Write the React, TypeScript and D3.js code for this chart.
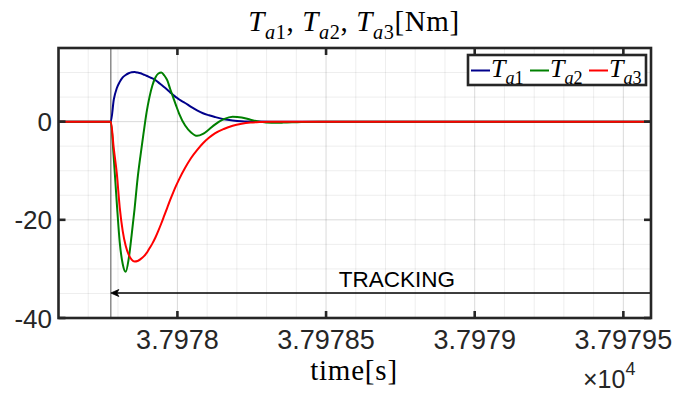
import React from "react";
import * as d3 from "d3";

// Time window and switching instant (seconds)
const T_START = 37977.6;
const T_END = 37979.593;
const T_SWITCH = 37977.776;

// Sample instants after the switch (seconds)
const tOffsets = [
  0, 0.01, 0.02, 0.03, 0.04, 0.05, 0.06, 0.07, 0.08, 0.09, 0.1, 0.11, 0.12, 0.13, 0.14, 0.15, 0.16,
  0.17, 0.18, 0.19, 0.2, 0.21, 0.22, 0.23, 0.25, 0.27, 0.29, 0.31, 0.33, 0.35, 0.38, 0.41, 0.44,
  0.47, 0.5, 0.54, 0.58, 0.64, 0.7, 0.8,
];

// Actuator torques [Nm]
const ta1 = [
  0, 4.5, 6.8, 8.1, 9.0, 9.5, 9.85, 10.05, 10.1, 10.0, 9.85, 9.6, 9.35, 9.05, 8.8, 8.45, 8.0, 7.5,
  7.0, 6.5, 5.95, 5.4, 4.95, 4.5, 3.8, 3.0, 2.3, 1.7, 1.3, 0.95, 0.5, 0.25, 0.1, 0.04, 0.01, 0, 0, 0,
  0, 0,
];
const ta2 = [
  0, -7.5, -16.5, -24.6, -29.0, -30.6, -28.0, -23.1, -17.7, -11.6, -6.8, -2.4, 1.8, 5.0, 7.4, 9.0,
  9.8, 10.0, 9.4, 8.4, 6.6, 4.9, 3.2, 1.6, -0.8, -2.2, -2.9, -2.5, -1.6, -0.6, 0.5, 1.0, 0.85, 0.4,
  0.0, -0.25, -0.2, -0.05, 0, 0,
];
const ta3 = [
  0, -5.5, -10.5, -17.5, -22.3, -25.3, -27.1, -28.1, -28.5, -28.4, -28.0, -27.5, -26.8, -25.8,
  -24.8, -23.6, -22.2, -20.7, -19.1, -17.5, -15.9, -14.4, -13.0, -11.7, -9.4, -7.4, -5.8, -4.4,
  -3.3, -2.4, -1.5, -0.85, -0.45, -0.2, -0.07, 0, 0, 0, 0, 0,
];

const seriesNames = ["1", "2", "3"];
const seriesColors = ["#00008b", "#008000", "#ff0000"];

const xTicks = [37978, 37978.5, 37979, 37979.5];
const xTickLabels = ["3.7978", "3.79785", "3.7979", "3.79795"];
const yTicks = [-40, -20, 0];
const yTickLabels = ["-40", "-20", "0"];
const yMinor = [10, 5, -5, -10, -15, -25, -30, -35];

const W = 673;
const H = 396;
const L = 58.5;
const R = 651;
const TOP = 48;
const BOT = 318;
const AX = "#262626";
const SANS = "'Liberation Sans', Arial, Helvetica, sans-serif";
const SERIF = "'Liberation Serif', 'Times New Roman', serif";

// T with subscript "a<n>"; the trailing text is shifted back to the baseline
function taSpans(key: string, n: string, size: number, after?: string) {
  const s = size * 0.7;
  const d = size * 0.27;
  const out = [
    <tspan key={key + "T"} fontStyle="italic">T</tspan>,
    <tspan key={key + "a"} fontStyle="italic" fontSize={s} dy={d}>a</tspan>,
    <tspan key={key + "n"} fontSize={s}>{n}</tspan>,
  ];
  if (after) out.push(<tspan key={key + "r"} dy={-d}>{after}</tspan>);
  return out;
}

export default function App() {
  const x = d3.scaleLinear().domain([T_START, T_END]).range([L, R]);
  const y = d3.scaleLinear().domain([-40, 15]).range([BOT, TOP]);

  const xMinor = d3.range(37977.7, 37979.59, 0.1).filter(
    (t) => !xTicks.some((k) => Math.abs(k - t) < 1e-6)
  );

  const build = (vals: number[]) => {
    const pts: [number, number][] = [[T_START, 0]];
    tOffsets.forEach((o, i) => pts.push([T_SWITCH + o, vals[i]]));
    pts.push([T_END, 0]);
    return pts;
  };
  const line = d3
    .line<[number, number]>()
    .x((d) => x(d[0]))
    .y((d) => y(d[1]))
    .curve(d3.curveMonotoneX);
  const series = [ta1, ta2, ta3].map(build);

  const ay = 293;
  const tipX = x(T_SWITCH);

  return (
    <svg
      width={W}
      height={H}
      style={{ position: "fixed", left: 0, top: 0, background: "#fff" }}
    >
      <rect x={0} y={0} width={W} height={H} fill="#fff" />
      {/* minor grid */}
      {xMinor.map((t) => (
        <line key={"xm" + t} x1={x(t)} x2={x(t)} y1={TOP} y2={BOT} stroke={AX} strokeOpacity={0.08} />
      ))}
      {yMinor.map((v) => (
        <line key={"ym" + v} x1={L} x2={R} y1={y(v)} y2={y(v)} stroke={AX} strokeOpacity={0.08} />
      ))}
      {/* major grid */}
      {xTicks.map((t) => (
        <line key={"xg" + t} x1={x(t)} x2={x(t)} y1={TOP} y2={BOT} stroke={AX} strokeOpacity={0.17} />
      ))}
      {yTicks.map((v) => (
        <line key={"yg" + v} x1={L} x2={R} y1={y(v)} y2={y(v)} stroke={AX} strokeOpacity={0.17} />
      ))}
      {/* switching instant */}
      <line x1={tipX} x2={tipX} y1={TOP} y2={BOT} stroke="#6e6e6e" strokeWidth={1.2} />
      {/* torque curves */}
      {series.map((pts, i) => (
        <path key={i} d={line(pts) || ""} fill="none" stroke={seriesColors[i]} strokeWidth={2} />
      ))}
      {/* tracking annotation */}
      <line x1={R} x2={tipX + 4} y1={ay} y2={ay} stroke="#000" strokeWidth={1.6} />
      <path
        d={`M${tipX},${ay} L${tipX + 8},${ay - 3.5} L${tipX + 6},${ay} L${tipX + 8},${ay + 3.5} Z`}
        fill="#000"
        stroke="#000"
        strokeWidth={0.8}
      />
      <text x={397} y={287} fontFamily={SANS} fontSize={22.5} textAnchor="middle" fill="#000">
        TRACKING
      </text>
      {/* axes box */}
      <rect x={L} y={TOP} width={R - L} height={BOT - TOP} fill="none" stroke={AX} strokeWidth={2.6} />
      {xTicks.map((t) => (
        <g key={"xt" + t}>
          <line x1={x(t)} x2={x(t)} y1={BOT} y2={BOT - 7} stroke={AX} strokeWidth={2.6} />
          <line x1={x(t)} x2={x(t)} y1={TOP} y2={TOP + 7} stroke={AX} strokeWidth={2.6} />
        </g>
      ))}
      {yTicks.map((v) => (
        <g key={"yt" + v}>
          <line x1={L} x2={L + 7} y1={y(v)} y2={y(v)} stroke={AX} strokeWidth={2.6} />
          <line x1={R} x2={R - 7} y1={y(v)} y2={y(v)} stroke={AX} strokeWidth={2.6} />
        </g>
      ))}
      {/* tick labels */}
      {xTicks.map((t, i) => (
        <text key={"xl" + t} x={x(t)} y={349} fontFamily={SANS} fontSize={27} textAnchor="middle" fill={AX}>
          {xTickLabels[i]}
        </text>
      ))}
      {yTicks.map((v, i) => (
        <text key={"yl" + v} x={52} y={y(v) + 9.5} fontFamily={SANS} fontSize={26} textAnchor="end" fill={AX}>
          {yTickLabels[i]}
        </text>
      ))}
      {/* exponent */}
      <text x={583} y={388} fontFamily={SANS} fontSize={25} fill={AX}>
        ×10
        <tspan fontSize={18} dy={-13}>4</tspan>
      </text>
      {/* axis label */}
      <text x={354} y={380} fontFamily={SERIF} fontSize={29} letterSpacing={0.8} textAnchor="middle" fill="#000">
        time[s]
      </text>
      {/* title */}
      <text x={354} y={31} fontFamily={SERIF} fontSize={29} letterSpacing={0.6} textAnchor="middle" fill="#000">
        {taSpans("t1", "1", 29, ", ")}
        {taSpans("t2", "2", 29, ", ")}
        {taSpans("t3", "3", 29, "[Nm]")}
      </text>
      {/* legend */}
      <rect x={468} y={55} width={178} height={30} fill="#fff" stroke={AX} strokeWidth={2.6} />
      {seriesNames.map((n, i) => {
        const x0 = 471 + i * 59;
        return (
          <g key={"lg" + n}>
            <line x1={x0} x2={x0 + 19} y1={70.5} y2={70.5} stroke={seriesColors[i]} strokeWidth={2} />
            <text x={x0 + 20} y={77} fontFamily={SERIF} fontSize={26} fill="#000">
              {taSpans("l" + n, n, 26)}
            </text>
          </g>
        );
      })}
    </svg>
  );
}
